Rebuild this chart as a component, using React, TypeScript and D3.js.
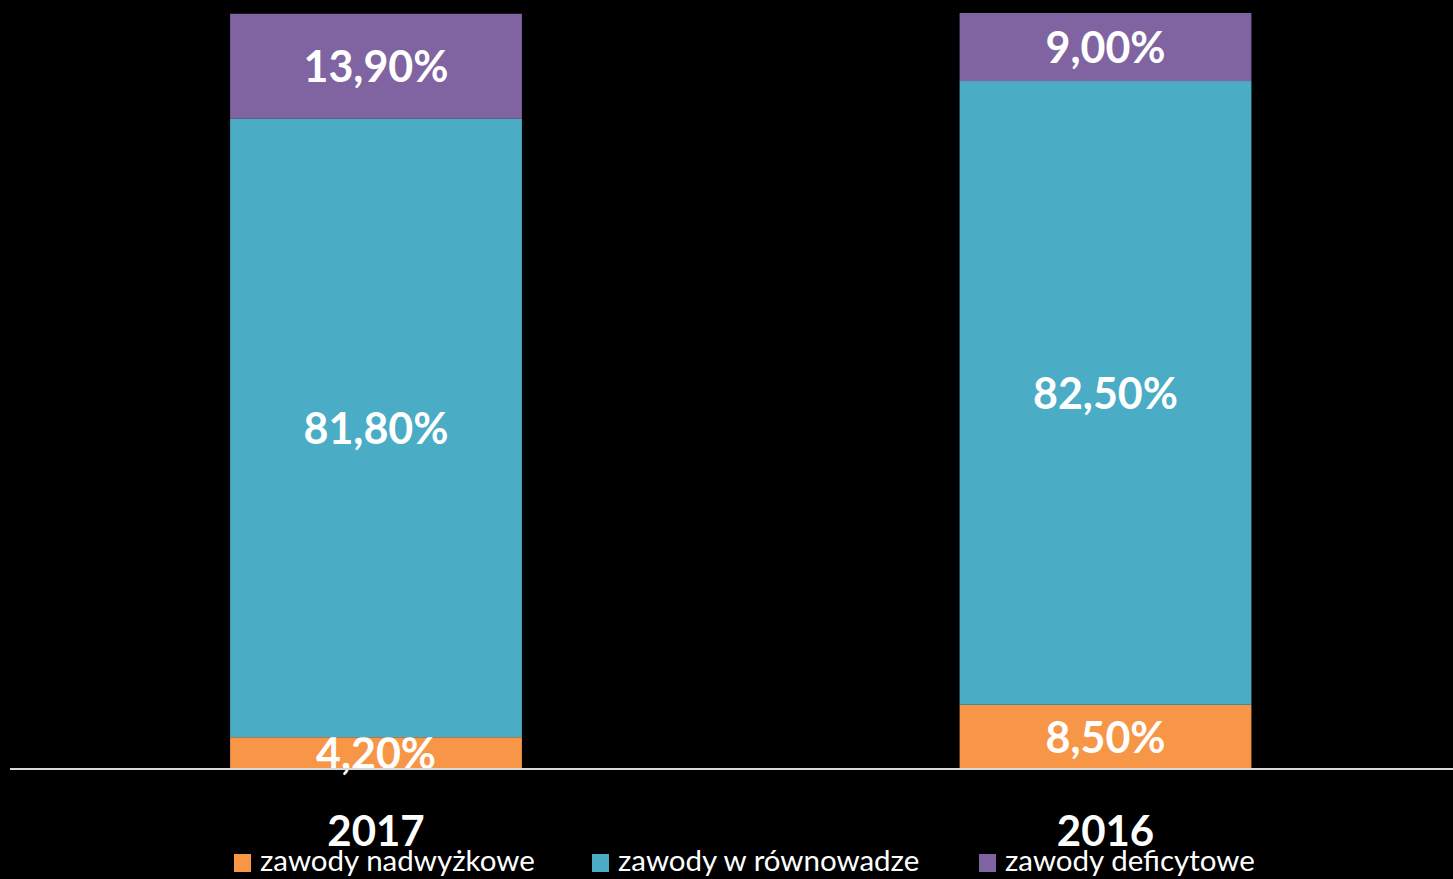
import React from "react";
import * as d3 from "d3";

const categories = ["2017", "2016"];
const seriesNames = ["zawody nadwyżkowe", "zawody w równowadze", "zawody deficytowe"];
const seriesColors = ["#F79646", "#4BACC6", "#8064A2"];
const nadwyzkowe = [4.2, 8.5];
const rownowaga = [81.8, 82.5];
const deficytowe = [13.9, 9.0];
const seriesValues = [nadwyzkowe, rownowaga, deficytowe];

const W = 1453;
const H = 879;
const fmt = (v: number) => v.toFixed(2).replace(".", ",") + "%";

export default function App() {
  const x = d3
    .scaleBand<string>()
    .domain(categories)
    .range([11.25, 1470.25])
    .paddingInner(0.6)
    .paddingOuter(0.3);
  const y = d3.scaleLinear().domain([0, 100]).range([769, 13]);

  const rows = categories.map((c, i) => {
    const r: any = { cat: c };
    seriesNames.forEach((s, k) => (r[s] = seriesValues[k][i]));
    return r;
  });
  const stacked = d3.stack<any>().keys(seriesNames)(rows);

  const legendX = [234, 592, 979];
  const font = "Lato, 'Open Sans', sans-serif";

  return (
    <svg
      width={W}
      height={H}
      style={{ position: "absolute", left: 0, top: 0, display: "block" }}
    >
      <rect x={0} y={0} width={W} height={H} fill="#000" />
      {stacked.map((layer, k) => (
        <g key={k}>
          {layer.map((d, i) => {
            const x0 = x(categories[i])!;
            const y0 = y(d[1]);
            const y1 = y(d[0]);
            return (
              <g key={i}>
                <rect x={x0} y={y0} width={x.bandwidth()} height={y1 - y0} fill={seriesColors[k]} />
                <text
                  x={x0 + x.bandwidth() / 2}
                  y={(y0 + y1) / 2}
                  dy="0.37em"
                  textAnchor="middle"
                  fill="#fff"
                  fontFamily={font}
                  fontWeight="bold"
                  fontSize={43}
                >
                  {fmt(seriesValues[k][i])}
                </text>
              </g>
            );
          })}
        </g>
      ))}
      <line x1={10} x2={W} y1={769} y2={769} stroke="#d9d9d9" strokeWidth={2} />
      {categories.map((c) => (
        <text
          key={c}
          x={x(c)! + x.bandwidth() / 2}
          y={846}
          textAnchor="middle"
          fill="#fff"
          fontFamily={font}
          fontWeight="bold"
          fontSize={42}
        >
          {c}
        </text>
      ))}
      {seriesNames.map((s, k) => (
        <g key={s}>
          <rect x={legendX[k]} y={854} width={17} height={18} fill={seriesColors[k]} />
          <text x={legendX[k] + 26} y={871} fill="#fff" fontFamily={font} fontSize={29.5}>
            {s}
          </text>
        </g>
      ))}
      <text x={1437} y={890} fill="#fff" fontFamily={font} fontSize={16}>
        8
      </text>
    </svg>
  );
}
